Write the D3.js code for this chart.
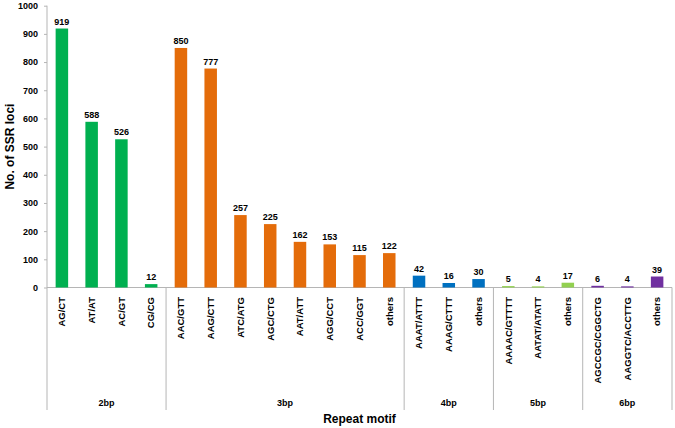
<!DOCTYPE html>
<html>
<head>
<meta charset="utf-8">
<script src="https://cdn.jsdelivr.net/npm/d3@7"></script>
<style>
  body { margin: 0; background: #fff; }
  text { font-family: "Liberation Sans", Arial, sans-serif; font-weight: bold; fill: #000; }
</style>
</head>
<body>
<div class="chart"></div>
<script>
var width = 675;
var height = 428;

// data
var motifs = ["AG/CT", "AT/AT", "AC/GT", "CG/CG",
    "AAC/GTT", "AAG/CTT", "ATC/ATG", "AGC/CTG", "AAT/ATT", "AGG/CCT", "ACC/GGT", "others ",
    "AAAT/ATTT", "AAAG/CTTT", "others  ",
    "AAAAC/GTTTT", "AATAT/ATATT", "others   ",
    "AGCCGC/CGGCTG", "AAGGTC/ACCTTG", "others    "];
var counts = [919, 588, 526, 12, 850, 777, 257, 225, 162, 153, 115, 122, 42, 16, 30, 5, 4, 17, 6, 4, 39];
var groups = ["2bp", "3bp", "4bp", "5bp", "6bp"];
var groupSizes = [4, 8, 3, 3, 3];
var groupColors = ["#00b050", "#e46c0a", "#0070c0", "#92d050", "#7030a0"];
var yTicks = [0, 100, 200, 300, 400, 500, 600, 700, 800, 900, 1000];

var plotLeft = 47, plotRight = 672, plotTop = 5.7, plotBottom = 287.5, sepBottom = 410;

// which group each motif is in
var groupOf = [];
groupSizes.forEach(function(n, g) { for (var i = 0; i < n; i++) groupOf.push(g); });
var data = motifs.map(function(m, i) { return {motif: m, count: counts[i], group: groupOf[i]}; });

var svg = d3.select(".chart").append("svg").attr("width", width).attr("height", height);

var x = d3.scaleBand().domain(motifs).range([plotLeft, plotRight]).paddingInner(0.58).paddingOuter(0.29);
var y = d3.scaleLinear().domain([0, 1000]).range([plotBottom, plotTop]);

// y axis
var yAxis = d3.axisLeft(y).tickValues(yTicks).tickFormat(d3.format("d")).tickSize(3).tickPadding(6);
var ya = svg.append("g").attr("transform", "translate(" + plotLeft + ",0)").call(yAxis);
ya.attr("font-family", null).attr("font-size", null);
ya.select(".domain").attr("stroke", "#b5b5b5").attr("d", "M0," + plotTop + "V" + sepBottom);
ya.selectAll(".tick line").attr("stroke", "#b5b5b5");
ya.selectAll(".tick text").style("font-size", "9px");

// x axis baseline
svg.append("line")
    .attr("x1", plotLeft).attr("x2", plotRight)
    .attr("y1", plotBottom).attr("y2", plotBottom)
    .attr("stroke", "#b5b5b5");

// bars
svg.selectAll(".bar")
    .data(data)
    .enter().append("rect")
    .attr("class", "bar")
    .attr("x", function(d) { return x(d.motif); })
    .attr("width", x.bandwidth())
    .attr("y", function(d) { return y(d.count); })
    .attr("height", function(d) { return plotBottom - y(d.count); })
    .attr("fill", function(d) { return groupColors[d.group]; });

// value labels
svg.selectAll(".val")
    .data(data)
    .enter().append("text")
    .attr("class", "val")
    .attr("x", function(d) { return x(d.motif) + x.bandwidth() / 2; })
    .attr("y", function(d) { return y(d.count) - 4; })
    .attr("text-anchor", "middle")
    .style("font-size", "9px")
    .text(function(d) { return d.count; });

// rotated category labels
svg.selectAll(".cat")
    .data(data)
    .enter().append("text")
    .attr("class", "cat")
    .attr("transform", function(d) {
        return "translate(" + (x(d.motif) + x.bandwidth() / 2) + ",297) rotate(-90)";
    })
    .attr("dy", "0.35em")
    .attr("text-anchor", "end")
    .style("font-size", "9.5px")
    .text(function(d) { return d.motif.trim(); });

// group separators and labels
var step = x.step();
var start = 0;
groupSizes.forEach(function(n, g) {
    var x0 = plotLeft + start * step, x1 = plotLeft + (start + n) * step;
    svg.append("line")
        .attr("x1", x1).attr("x2", x1)
        .attr("y1", plotBottom).attr("y2", sepBottom)
        .attr("stroke", "#b5b5b5");
    svg.append("text")
        .attr("x", (x0 + x1) / 2).attr("y", 406)
        .attr("text-anchor", "middle")
        .style("font-size", "9px")
        .text(groups[g]);
    start += n;
});

// axis titles
svg.append("text")
    .attr("x", (plotLeft + plotRight) / 2).attr("y", 423)
    .attr("text-anchor", "middle")
    .style("font-size", "12px")
    .text("Repeat motif");

svg.append("text")
    .attr("transform", "translate(14," + ((plotTop + plotBottom) / 2) + ") rotate(-90)")
    .attr("text-anchor", "middle")
    .style("font-size", "12px")
    .text("No. of SSR loci");
</script>
</body>
</html>
